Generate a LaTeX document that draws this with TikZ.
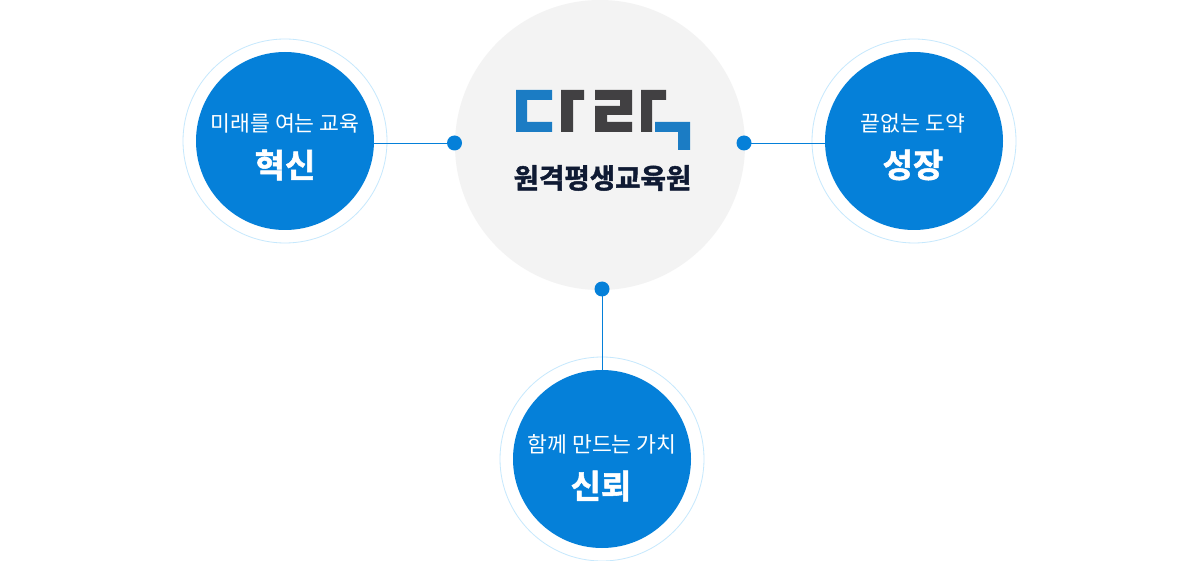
\documentclass[tikz,border=0pt]{standalone}
\usepackage{fontspec}
\setmainfont{Noto Sans CJK KR}
\newfontfamily\heavyfont[FakeBold=1.6]{Noto Sans CJK KR Bold}
\definecolor{mainblue}{HTML}{0580D9}
\definecolor{ringblue}{HTML}{C6E8FD}
\definecolor{centergray}{HTML}{F3F3F3}
\definecolor{logoblue}{HTML}{1B7CC4}
\definecolor{logogray}{HTML}{414042}
\definecolor{logonavy}{HTML}{0F1A33}
\tikzset{
  ringnode/.style={circle,draw=ringblue,line width=0.8pt,fill=white,minimum size=204pt,inner sep=0pt},
  discnode/.style={circle,fill=mainblue,minimum size=178pt,inner sep=0pt},
  dotnode/.style={circle,fill=mainblue,minimum size=15pt,inner sep=0pt},
  linkline/.style={draw=mainblue,line width=0.9pt},
  subtext/.style={text=white,font=\fontsize{21.6pt}{25pt}\selectfont,inner sep=0pt},
  headtext/.style={text=white,font=\heavyfont\fontsize{33pt}{37pt}\selectfont,inner sep=0pt},
  logotext/.style={text=logonavy,font=\heavyfont\fontsize{27.6pt}{32pt}\selectfont,inner sep=0pt}
}
\begin{document}
\begin{tikzpicture}[x=1pt,y=-1pt]
\useasboundingbox (0,0) rectangle (1200,561);
\fill[white] (0,0) rectangle (1200,561);
% centre
\node[circle,fill=centergray,minimum size=290pt,inner sep=0pt] (center) at (600,145) {};
% rings and discs
\node[ringnode] (ringL) at (285,141) {};
\node[ringnode] (ringR) at (914,141) {};
\node[ringnode] (ringB) at (602,459) {};
\node[discnode] (discL) at (285,141) {};
\node[discnode] (discR) at (914,141) {};
\node[discnode] (discB) at (602,459) {};
% dots
\node[dotnode] (dotL) at (454.5,143) {};
\node[dotnode] (dotR) at (744,143) {};
\node[dotnode] (dotB) at (602,289) {};
% connectors
\draw[linkline] (dotL.center) -- (dotL.center -| discL.east);
\draw[linkline] (dotR.center) -- (dotR.center -| discR.west);
\draw[linkline] (dotB.center) -- (discB.north);
% logo
\fill[logoblue] (516,90) -- (552,90) -- (552,100) -- (527,100) -- (527,122) -- (552,122) -- (552,132) -- (516,132) -- cycle;
\fill[logogray] (561,90) -- (584,90) -- (584,100) -- (573,100) -- (573,132) -- (561,132) -- cycle;
\fill[logogray] (595,90) -- (632,90) -- (632,115) -- (607,115) -- (607,122) -- (632,122) -- (632,132) -- (595,132) -- (595,106) -- (620,106) -- (620,100) -- (595,100) -- cycle;
\fill[logogray] (641,90) -- (666,90) -- (666,100) -- (652,100) -- (652,132) -- (641,132) -- cycle;
\fill[logoblue] (655,122) -- (690,122) -- (690,150) -- (678,150) -- (678,132) -- (655,132) -- cycle;
\node[logotext] (logoname) at (602.5,178) {원격평생교육원};
% labels
\node[subtext] (subL) at (285,123.5) {미래를 여는 교육};
\node[headtext] (headL) at (285,165) {혁신};
\node[subtext] (subR) at (913,123.5) {끝없는 도약};
\node[headtext] (headR) at (913,165) {성장};
\node[subtext] (subB) at (602,444) {함께 만드는 가치};
\node[headtext] (headB) at (601,486) {신뢰};
\end{tikzpicture}
\end{document}
